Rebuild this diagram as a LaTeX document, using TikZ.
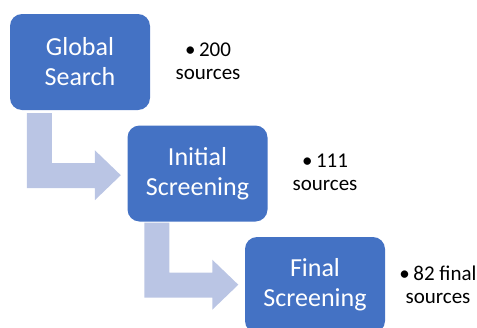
\documentclass[tikz,border=0pt]{standalone}
\usepackage{fontspec}
\setmainfont{Carlito}
\usetikzlibrary{calc}
\definecolor{stepblue}{RGB}{68,114,196}
\definecolor{arrowblue}{RGB}{186,197,228}
\tikzset{
  stagebox/.style={fill=stepblue,text=white,rounded corners=12pt,minimum width=140pt,minimum height=96pt,align=center,inner sep=0pt,font=\fontsize{26}{30}\selectfont},
  countnote/.style={align=center,inner sep=0pt,font=\fontsize{21}{23}\selectfont}
}
\newcommand{\bentarrow}[1]{%
\fill[arrowblue] (#1) -- ++(25,0) -- ++(0,50) -- ++(43,0) -- ++(0,-13) -- ++(26,25) -- ++(-26,25) -- ++(0,-12) -- ++(-68,0) -- cycle;}
\begin{document}
\begin{tikzpicture}[x=1pt,y=-1pt]
\useasboundingbox (0,0) rectangle (477,327);
\node[stagebox] (gs) at (80,62) {Global\\Search};
\node[stagebox] (is) at (197.5,173.5) {Initial\\Screening};
\node[stagebox] (fs) at (315,285) {Final\\Screening};
\coordinate (a1) at ($(gs.south west)+(17,3)$);
\coordinate (a2) at ($(is.south west)+(17,1)$);
\bentarrow{a1}
\bentarrow{a2}
\node[countnote] (n1) at (208,61) {\textbullet\,200\\sources};
\node[countnote] (n2) at (325,172) {\textbullet\,111\\sources};
\node[countnote] (n3) at (438,285) {\textbullet\,82 final\\sources};
\end{tikzpicture}
\end{document}
